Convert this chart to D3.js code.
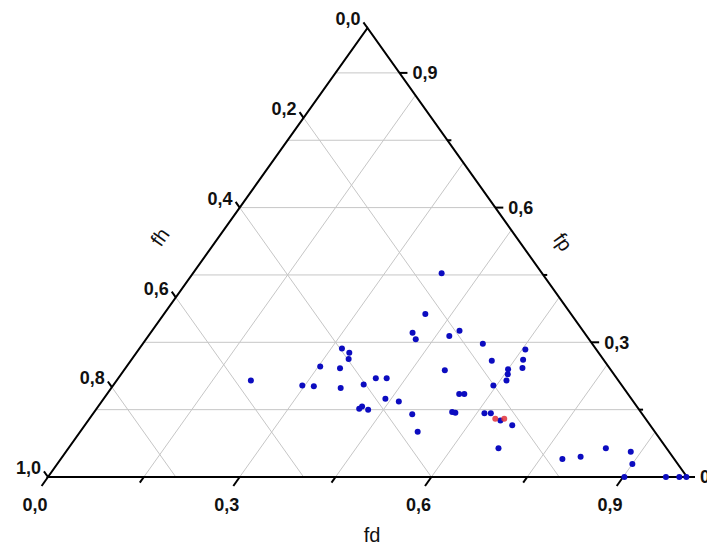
<!DOCTYPE html>
<html>
<head>
<meta charset="utf-8">
<script src="https://cdnjs.cloudflare.com/ajax/libs/d3/7.8.5/d3.min.js"></script>
<style>
  body { margin: 0; background: #fff; }
  .tickLabel { font-family: "Liberation Sans", Arial, sans-serif; font-size: 18px; font-weight: bold; fill: #111; }
  .axisTitle { font-family: "Liberation Sans", Arial, sans-serif; font-size: 20px; fill: #111; }
</style>
</head>
<body>
<div id="ternary"></div>
<script>
// Ternary diagram fd / fp / fh
// Blue series values
var blueFd = [0.389, 0.409, 0.410, 0.422, 0.471, 0.481, 0.532, 0.605, 0.565, 0.613,
  0.621, 0.600, 0.605, 0.610, 0.595, 0.502, 0.551, 0.559, 0.560, 0.566,
  0.612, 0.622, 0.645, 0.669, 0.528, 0.500, 0.465, 0.441, 0.426, 0.413,
  0.411, 0.391, 0.403, 0.420, 0.317, 0.333, 0.339, 0.336, 0.303, 0.359,
  0.315, 0.296, 0.210, 0.673, 0.785, 0.811, 0.841, 0.884, 0.900, 0.902,
  0.967, 0.988, 0.999];
var blueFp = [0.454, 0.363, 0.321, 0.307, 0.314, 0.326, 0.297, 0.284, 0.259, 0.261,
  0.243, 0.240, 0.229, 0.215, 0.204, 0.238, 0.185, 0.185, 0.145, 0.143,
  0.142, 0.142, 0.126, 0.115, 0.101, 0.140, 0.168, 0.174, 0.150, 0.157,
  0.152, 0.206, 0.220, 0.220, 0.286, 0.277, 0.263, 0.242, 0.246, 0.198,
  0.202, 0.204, 0.215, 0.064, 0.040, 0.045, 0.064, 0.056, 0.029, 0.000,
  0.000, 0.000, 0.000];
var blueFh = [0.157, 0.228, 0.269, 0.271, 0.215, 0.193, 0.171, 0.111, 0.176, 0.126,
  0.136, 0.160, 0.166, 0.175, 0.201, 0.260, 0.264, 0.256, 0.295, 0.291,
  0.246, 0.236, 0.229, 0.216, 0.371, 0.360, 0.367, 0.385, 0.424, 0.430,
  0.437, 0.403, 0.377, 0.360, 0.397, 0.390, 0.398, 0.422, 0.451, 0.443,
  0.483, 0.500, 0.575, 0.263, 0.175, 0.144, 0.095, 0.060, 0.071, 0.098,
  0.033, 0.012, 0.001];

// Red series values
var redFd = [0.635, 0.649];
var redFp = [0.130, 0.130];
var redFh = [0.235, 0.221];

// Tick values for each axis
var fdTicks = [0, 0.15, 0.3, 0.45, 0.6, 0.75, 0.9];
var fdLabels = [0, 0.3, 0.6, 0.9];
var fpTicks = [0, 0.15, 0.3, 0.45, 0.6, 0.75, 0.9];
var fpLabels = [0, 0.3, 0.6, 0.9];
var fhTicks = [0, 0.2, 0.4, 0.6, 0.8, 1.0];
var fhGrid = [0.2, 0.4, 0.6, 0.8];
var stepGrid = [0.15, 0.3, 0.45, 0.6, 0.75, 0.9];

var svgWidth = 707;
var svgHeight = 547;

// corners of the triangle: bottom-left (fh), bottom-right (fd), top (fp)
var margin = { top: 28, right: 20, bottom: 70, left: 48 };
var baseWidth = 639;
var triHeight = svgHeight - margin.top - margin.bottom;

var svg = d3.select("#ternary")
  .append("svg")
  .attr("width", svgWidth)
  .attr("height", svgHeight);

// x works on the cartesian "fd + fp/2", y on fp
var xScale = d3.scaleLinear().domain([0, 1]).range([margin.left, margin.left + baseWidth]);
var yScale = d3.scaleLinear().domain([0, 1]).range([margin.top + triHeight, margin.top]);

function pt(fd, fp, fh) {
  var s = fd + fp + fh;
  fd = fd / s; fp = fp / s;
  return [xScale(fd + fp / 2), yScale(fp)];
}

var fmt = function(v) { return d3.format(".1f")(v).replace(".", ","); };

// unit vectors for tick directions
var T = pt(0, 1, 0), BL = pt(0, 0, 1), BR = pt(1, 0, 0);
function unit(a, b) {
  var dx = b[0] - a[0], dy = b[1] - a[1], l = Math.sqrt(dx * dx + dy * dy);
  return [dx / l, dy / l];
}
var dirLeft = unit(BR, T);   // up-left
var dirBottom = unit(T, BL); // down-left

var line = d3.line();

// grid lines
var gridGroup = svg.append("g")
  .attr("stroke", "#c6c6c6")
  .attr("stroke-width", 1)
  .attr("fill", "none");

// constant fp (horizontal)
gridGroup.selectAll(".gp")
  .data(stepGrid)
  .enter()
  .append("path")
  .attr("d", c => line([pt(0, c, 1 - c), pt(1 - c, c, 0)]));

// constant fd
gridGroup.selectAll(".gd")
  .data(stepGrid)
  .enter()
  .append("path")
  .attr("d", c => line([pt(c, 0, 1 - c), pt(c, 1 - c, 0)]));

// constant fh
gridGroup.selectAll(".gh")
  .data(fhGrid)
  .enter()
  .append("path")
  .attr("d", c => line([pt(0, 1 - c, c), pt(1 - c, 0, c)]));

// triangle frame
svg.append("path")
  .attr("d", line([BL, BR, T]) + "Z")
  .attr("fill", "none")
  .attr("stroke", "#000")
  .attr("stroke-width", 2)
  .attr("stroke-linejoin", "miter");

var axisGroup = svg.append("g")
  .attr("stroke", "#000")
  .attr("stroke-width", 2);

// bottom (fd) ticks
axisGroup.selectAll(".td")
  .data(fdTicks)
  .enter()
  .append("path")
  .attr("d", function(c) {
    var p = pt(c, 0, 1 - c);
    var len = fdLabels.indexOf(c) >= 0 ? 11 : 7;
    return line([p, [p[0] + dirBottom[0] * len, p[1] + dirBottom[1] * len]]);
  });

svg.selectAll(".ld")
  .data(fdLabels)
  .enter()
  .append("text")
  .attr("class", "tickLabel")
  .attr("text-anchor", "middle")
  .attr("x", c => pt(c, 0, 1 - c)[0] - 13)
  .attr("y", 511)
  .text(fmt);

// right (fp) ticks
axisGroup.selectAll(".tp")
  .data(fpTicks)
  .enter()
  .append("path")
  .attr("d", function(c) {
    var p = pt(1 - c, c, 0);
    var len = fpLabels.indexOf(c) >= 0 ? 8 : 4;
    return line([p, [p[0] + len, p[1]]]);
  });

svg.selectAll(".lp")
  .data(fpLabels)
  .enter()
  .append("text")
  .attr("class", "tickLabel")
  .attr("x", c => pt(1 - c, c, 0)[0] + 13)
  .attr("y", c => pt(1 - c, c, 0)[1])
  .attr("dy", "0.36em")
  .text(fmt);

// left (fh) ticks
axisGroup.selectAll(".th")
  .data(fhTicks)
  .enter()
  .append("path")
  .attr("d", function(c) {
    var p = pt(0, 1 - c, c);
    return line([p, [p[0] + dirLeft[0] * 7, p[1] + dirLeft[1] * 7]]);
  });

svg.selectAll(".lh")
  .data(fhTicks)
  .enter()
  .append("text")
  .attr("class", "tickLabel")
  .attr("text-anchor", "end")
  .attr("x", c => pt(0, 1 - c, c)[0] + dirLeft[0] * 7 - 3)
  .attr("y", c => pt(0, 1 - c, c)[1] + dirLeft[1] * 7 + 3)
  .text(fmt);

// axis titles
var leftAngle = Math.atan2(T[1] - BL[1], T[0] - BL[0]) * 180 / Math.PI;
var rightAngle = Math.atan2(BR[1] - T[1], BR[0] - T[0]) * 180 / Math.PI;

svg.append("text")
  .attr("class", "axisTitle")
  .attr("text-anchor", "middle")
  .attr("x", 372)
  .attr("y", 542)
  .text("fd");

svg.append("text")
  .attr("class", "axisTitle")
  .attr("text-anchor", "middle")
  .attr("transform", `translate(160, 237) rotate(${leftAngle})`)
  .attr("dy", "0.35em")
  .text("fh");

svg.append("text")
  .attr("class", "axisTitle")
  .attr("text-anchor", "middle")
  .attr("transform", `translate(563, 242) rotate(${rightAngle})`)
  .attr("dy", "0.35em")
  .text("fp");

// points
var blueData = blueFd.map((d, i) => pt(d, blueFp[i], blueFh[i]));
var redData = redFd.map((d, i) => pt(d, redFp[i], redFh[i]));

svg.append("g")
  .selectAll("circle")
  .data(blueData)
  .enter()
  .append("circle")
  .attr("cx", d => d[0])
  .attr("cy", d => d[1])
  .attr("r", 3)
  .attr("fill", "#0c0cc0");

svg.append("g")
  .selectAll("circle")
  .data(redData)
  .enter()
  .append("circle")
  .attr("cx", d => d[0])
  .attr("cy", d => d[1])
  .attr("r", 3)
  .attr("fill", "#e0303a")
  .attr("opacity", 0.85);
</script>
</body>
</html>
